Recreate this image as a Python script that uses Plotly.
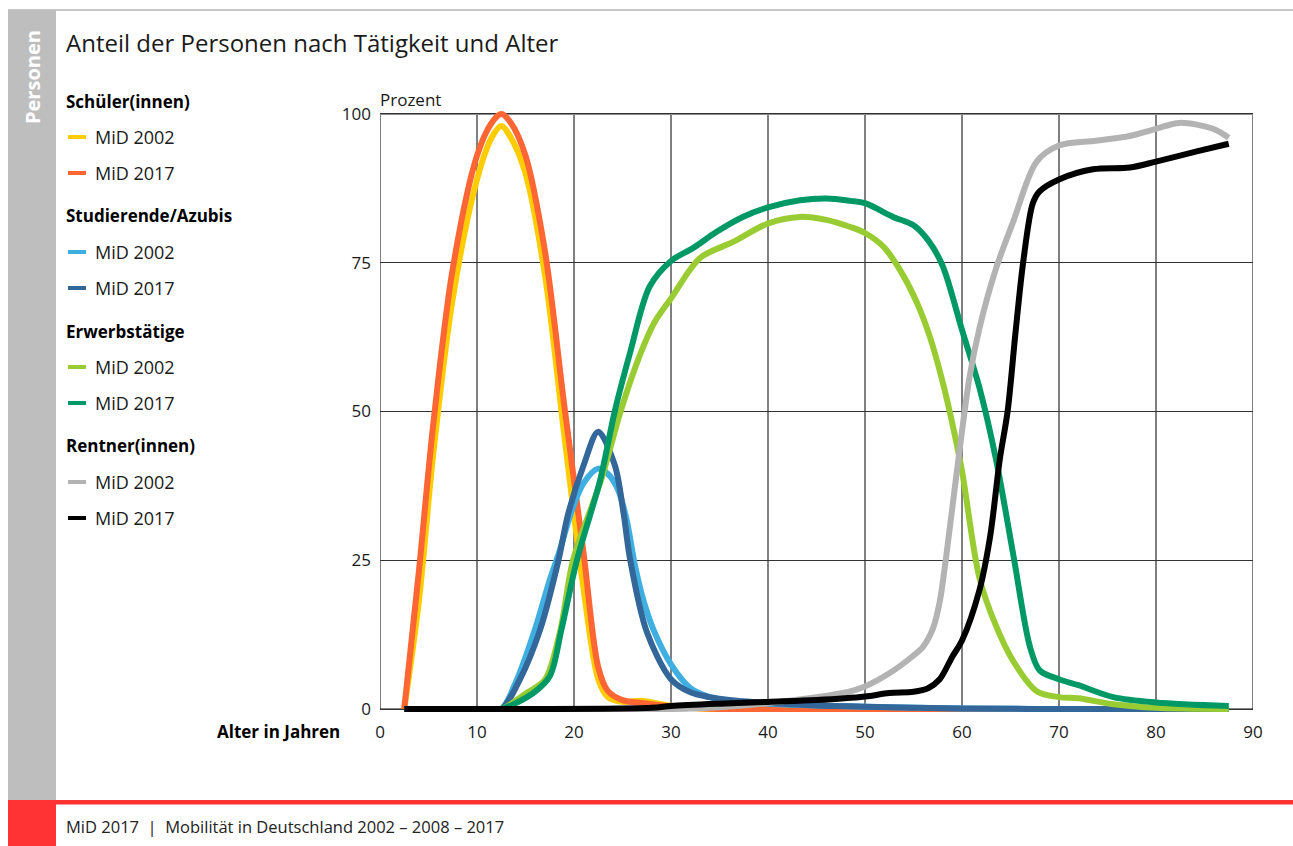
import plotly.graph_objects as go

# ---------------- data ----------------
sch_x = [2.5, 4, 5.5, 7.5, 10, 11.5, 12.5, 13.5, 15, 17, 19, 21, 22.5, 23.5, 25, 27, 29, 31, 35, 50, 87.5]
sch_2017 = [0, 23, 48, 74, 93, 98.5, 100, 98.5, 93, 77, 51, 26, 7, 3, 1.5, 1, 0.6, 0.3, 0, 0, 0]
sch_2002 = [0, 18, 43, 69, 89, 96, 98, 96, 90, 73, 46, 20, 5, 2, 1.2, 1.4, 0.8, 0.3, 0, 0, 0]

stud02_x = [2.5, 11, 12.5, 14, 16, 17.5, 18.5, 19.7, 21, 22.5, 23.5, 24.5, 25.4, 26.3, 27.2, 28.2, 30, 32, 34, 36, 40, 45, 50, 60, 70, 87.5]
stud_2002 = [0, 0, 0, 4.5, 13.5, 21.7, 26.5, 33, 38, 40.4, 39.5, 37, 32, 24, 18, 13.3, 7.5, 3.5, 2, 1.4, 0.9, 0.6, 0.4, 0.1, 0, 0]
stud17_x = [2.5, 11, 12.5, 14.4, 16.5, 18.4, 19.4, 21, 22.5, 24.2, 25.1, 25.8, 27.5, 30, 32, 34, 36, 40, 45, 50, 55, 60, 70, 87.5]
stud_2017 = [0, 0, 0, 4.9, 13.3, 25, 32.8, 41, 46.6, 41, 33, 25, 13, 5, 2.8, 2, 1.5, 1, 0.6, 0.4, 0.2, 0.1, 0, 0]

erw02_x = [2.5, 11, 12.5, 15.1, 17, 18.6, 19.9, 22.8, 24.8, 26.8, 28.3, 30, 33, 36.4, 40, 43.3, 46, 48.5, 50, 51.9, 53.6,
           55.3, 56.7, 58, 59, 60, 61.8, 63.5, 65.3, 67.7, 70, 72, 75.6, 80, 87.5]
erw_2002 = [0, 0, 0, 2.7, 4.9, 13.3, 25, 38.5, 50, 59.5, 65, 69, 75.8, 78.5, 81.6, 82.7, 82.2, 81, 80, 77.7, 73.8,
            68.5, 62.5, 55, 48, 40, 22, 14, 8, 3, 2, 1.8, 0.8, 0.2, 0]
erw17_x = [2.5, 11, 12.5, 15.8, 17.5, 18.7, 20.3, 22.7, 24.2, 25.8, 27.8, 30, 32.3, 34.7, 37.4, 40, 43.3, 46, 48.5, 50,
           52.9, 55, 56.5, 58, 60, 61.8, 63.5, 65.3, 67, 68, 70, 72, 75.6, 80, 87.5]
erw_2017 = [0, 0, 0, 2.7, 5.5, 13.3, 25, 38.5, 50, 60, 71, 75.3, 77.5, 80.2, 82.7, 84.3, 85.5, 85.8, 85.4, 85,
            82.7, 81.3, 78.8, 74.5, 63.7, 54, 42, 25.8, 10.5, 6.5, 5, 4, 2, 1.1, 0.5]

rent02_x = [2.5, 30, 35, 40, 45, 48, 50, 52.5, 55, 56, 57, 57.7, 58.4, 59.4, 60.8, 61.8, 63.5, 65.3, 67.7, 70, 73.8, 77.3, 80, 82.4, 85.9, 87.5]
rent_2002 = [0, 0, 0.3, 1.0, 2.0, 2.8, 3.8, 6, 9, 10.5, 13.5, 18, 26, 39, 56, 64, 74, 82, 92, 94.7, 95.5, 96.3, 97.5, 98.5, 97.5, 96]
rent17_x = [2.5, 28, 30, 35, 40, 45, 50, 52.5, 55, 56.5, 57.7, 59, 60, 61.8, 62.9, 63.9, 64.7, 65.5, 66.3, 67.3, 68, 70, 73.5, 77.3, 80, 84.2, 87.5]
rent_2017 = [0, 0.2, 0.5, 0.9, 1.2, 1.5, 2.1, 2.7, 2.9, 3.5, 5, 8.8, 11.5, 20, 29, 42, 50, 63, 75, 85, 87, 89, 90.7, 91, 92, 93.7, 95]

group_titles = ["Schüler(innen)", "Studierende/Azubis", "Erwerbstätige", "Rentner(innen)"]
series_labels = ["MiD 2002", "MiD 2017"]
x_ticks = [0, 10, 20, 30, 40, 50, 60, 70, 80, 90]
y_ticks = [0, 25, 50, 75, 100]

colors = {
    "sch02": "#FFCC00", "sch17": "#FF6633",
    "stud02": "#3FAEE0", "stud17": "#336699",
    "erw02": "#99CC33", "erw17": "#009966",
    "rent02": "#B3B3B3", "rent17": "#000000",
}

series = [
    ("sch02", sch_x, sch_2002, 0, 0),
    ("sch17", sch_x, sch_2017, 0, 1),
    ("stud02", stud02_x, stud_2002, 1, 0),
    ("stud17", stud17_x, stud_2017, 1, 1),
    ("erw02", erw02_x, erw_2002, 2, 0),
    ("erw17", erw17_x, erw_2017, 2, 1),
    ("rent02", rent02_x, rent_2002, 3, 0),
    ("rent17", rent17_x, rent_2017, 3, 1),
]

FONT = "Open Sans"
W, H = 1293, 846
L, R, T, B = 380, 1253, 111, 712


def xp(px):
    return (px - L) / (R - L)


def yp(py):
    return (B - py) / (B - T)


fig = go.Figure()
for key, xs, ys, g, s in series:
    fig.add_trace(go.Scatter(
        x=xs, y=ys, mode="lines",
        name=f"{group_titles[g]} {series_labels[s]}",
        line=dict(color=colors[key], width=6, shape="spline", smoothing=0.9),
        showlegend=False, hoverinfo="x+y",
    ))

shapes = []
annotations = []

# grid / frame (decoration)
for t in x_ticks[1:-1]:
    shapes.append(dict(type="line", xref="x", yref="y", x0=t, x1=t, y0=0, y1=100,
                       line=dict(color="#000000", width=1), layer="below"))
shapes.append(dict(type="line", xref="x", yref="y", x0=0, x1=0, y0=0, y1=100,
                   line=dict(color="#000000", width=1), layer="below"))
shapes.append(dict(type="line", xref="x", yref="y", x0=90, x1=90, y0=0, y1=100,
                   line=dict(color="#000000", width=1), layer="below"))
shapes.append(dict(type="line", xref="x", yref="y", x0=0, x1=90, y0=0, y1=0,
                   line=dict(color="#000000", width=1), layer="below"))
shapes.append(dict(type="line", xref="x", yref="y", x0=0, x1=90, y0=100, y1=100,
                   line=dict(color="#8a8a8a", width=2), layer="below"))

# page decoration
shapes.append(dict(type="line", xref="paper", yref="paper", x0=xp(8), x1=xp(1293), y0=yp(10), y1=yp(10),
                   line=dict(color="#c8c8c8", width=2)))
shapes.append(dict(type="rect", xref="paper", yref="paper", x0=xp(8), x1=xp(56), y0=yp(10), y1=yp(802),
                   fillcolor="#bebebe", line=dict(width=0)))
shapes.append(dict(type="rect", xref="paper", yref="paper", x0=xp(56), x1=xp(1293), y0=yp(800), y1=yp(804.5),
                   fillcolor="#ff3333", line=dict(width=0)))
shapes.append(dict(type="rect", xref="paper", yref="paper", x0=xp(8), x1=xp(56), y0=yp(800), y1=yp(846),
                   fillcolor="#ff3333", line=dict(width=0)))

annotations.append(dict(text="<b>Personen</b>", xref="paper", yref="paper", x=xp(32), y=yp(77),
                        textangle=-90, showarrow=False, font=dict(family=FONT, size=20, color="white"),
                        xanchor="center", yanchor="middle"))
annotations.append(dict(text="Anteil der Personen nach Tätigkeit und Alter", xref="paper", yref="paper",
                        x=xp(64), y=yp(42), showarrow=False, xanchor="left", yanchor="middle",
                        font=dict(family=FONT, size=24, color="#1a1a1a")))
annotations.append(dict(text="MiD 2017  |  Mobilität in Deutschland 2002 – 2008 – 2017", xref="paper", yref="paper",
                        x=xp(64), y=yp(826), showarrow=False, xanchor="left", yanchor="middle",
                        font=dict(family=FONT, size=16.5, color="#222222")))
annotations.append(dict(text="Prozent", xref="paper", yref="paper", x=xp(378), y=yp(99), showarrow=False,
                        xanchor="left", yanchor="middle", font=dict(family=FONT, size=17, color="#1a1a1a")))
annotations.append(dict(text="<b>Alter in Jahren</b>", xref="paper", yref="paper", x=xp(342), y=yp(731),
                        showarrow=False, xanchor="right", yanchor="middle",
                        font=dict(family=FONT, size=17, color="#000000")))

# manual legend
for g, title in enumerate(group_titles):
    y0 = 101 + 115 * g
    annotations.append(dict(text=f"<b>{title}</b>", xref="paper", yref="paper", x=xp(64), y=yp(y0),
                            showarrow=False, xanchor="left", yanchor="middle",
                            font=dict(family=FONT, size=17, color="#000000")))
    for s, lab in enumerate(series_labels):
        yy = y0 + 36 * (s + 1)
        key = series[2 * g + s][0]
        shapes.append(dict(type="line", xref="paper", yref="paper", x0=xp(68), x1=xp(86), y0=yp(yy), y1=yp(yy),
                           line=dict(color=colors[key], width=4)))
        annotations.append(dict(text=lab, xref="paper", yref="paper", x=xp(93), y=yp(yy),
                                showarrow=False, xanchor="left", yanchor="middle",
                                font=dict(family=FONT, size=18, color="#1a1a1a")))

fig.update_layout(
    width=W, height=H,
    margin=dict(l=L, r=W - R, t=T, b=H - B, pad=0),
    paper_bgcolor="white", plot_bgcolor="white",
    font=dict(family=FONT, size=17, color="#1a1a1a"),
    shapes=shapes, annotations=annotations,
    xaxis=dict(range=[0, 90], tickvals=x_ticks, showgrid=False, zeroline=False, showline=False,
               ticks="", ticklabelstandoff=8, tickfont=dict(size=17)),
    yaxis=dict(range=[-0.5, 100.5], tickvals=y_ticks, showgrid=True, gridcolor="#333333", gridwidth=1,
               zeroline=False, showline=False, ticks="", ticklabelstandoff=8, tickfont=dict(size=17)),
    showlegend=False,
)

fig.write_html("out.html")
